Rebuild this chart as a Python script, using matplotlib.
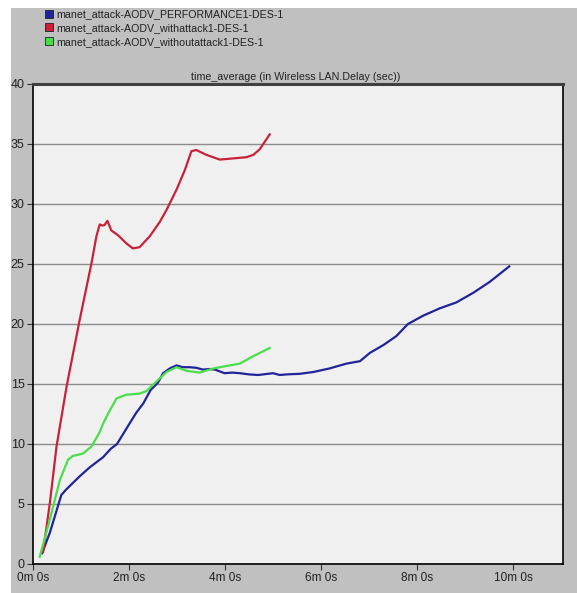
import matplotlib.pyplot as plt
from matplotlib.lines import Line2D
from matplotlib.patches import Rectangle

# Simulation time (minutes) and time-averaged WLAN delay (sec)
t_perf = [0.19, 0.35, 0.59, 0.69, 0.97, 1.18, 1.46, 1.62, 1.75, 2.01, 2.15, 2.30, 2.45,
          2.60, 2.71, 2.85, 2.99, 3.12, 3.26, 3.40, 3.54, 3.67, 3.79, 3.99, 4.15, 4.31,
          4.50, 4.69, 5.00, 5.14, 5.28, 5.56, 5.84, 6.18, 6.53, 6.81, 7.02, 7.30,
          7.57, 7.81, 8.13, 8.47, 8.82, 9.17, 9.51, 9.92]
d_perf = [0.9, 2.6, 5.75, 6.2, 7.3, 8.05, 8.9, 9.6, 10.0, 11.7, 12.6, 13.4, 14.5,
          15.1, 15.9, 16.3, 16.55, 16.4, 16.4, 16.35, 16.2, 16.25, 16.2, 15.9, 15.95, 15.9,
          15.8, 15.75, 15.9, 15.75, 15.8, 15.85, 16.0, 16.3, 16.7, 16.9, 17.6, 18.25,
          19.0, 20.0, 20.7, 21.3, 21.8, 22.6, 23.5, 24.8]

t_attack = [0.21, 0.35, 0.49, 0.70, 0.97, 1.22, 1.32, 1.39, 1.45, 1.49, 1.55, 1.63,
            1.77, 1.95, 2.08, 2.22, 2.43, 2.64, 2.78, 2.99, 3.16, 3.30, 3.40, 3.61,
            3.89, 4.17, 4.45, 4.59, 4.72, 4.83, 4.93]
d_attack = [1.0, 5.05, 9.8, 14.8, 20.3, 25.1, 27.3, 28.3, 28.2, 28.25, 28.6, 27.8,
            27.4, 26.7, 26.3, 26.4, 27.3, 28.5, 29.5, 31.2, 32.8, 34.4, 34.5, 34.1,
            33.7, 33.8, 33.9, 34.1, 34.55, 35.2, 35.8]

t_noattack = [0.14, 0.35, 0.56, 0.73, 0.83, 1.04, 1.22, 1.39, 1.46, 1.60, 1.74, 1.94,
              2.22, 2.36, 2.57, 2.78, 2.99, 3.20, 3.47, 3.76, 4.03, 4.31, 4.58, 4.93]
d_noattack = [0.6, 3.7, 7.0, 8.7, 9.0, 9.2, 9.8, 11.0, 11.7, 12.8, 13.8, 14.1,
              14.2, 14.4, 15.2, 16.0, 16.4, 16.1, 15.95, 16.3, 16.5, 16.7, 17.3, 18.0]

series_names = ['manet_attack-AODV_PERFORMANCE1-DES-1',
                'manet_attack-AODV_withattack1-DES-1',
                'manet_attack-AODV_withoutattack1-DES-1']
x_ticks = [0, 2, 4, 6, 8, 10]
x_labels = ['0m 0s', '2m 0s', '4m 0s', '6m 0s', '8m 0s', '10m 0s']
y_ticks = [0, 5, 10, 15, 20, 25, 30, 35, 40]

colors = ['#22229a', '#c8223a', '#4ade4a']
font = ['Liberation Sans', 'DejaVu Sans']

fig = plt.figure(figsize=(5.77, 5.93), dpi=100, facecolor='white')
# grey panel behind everything, white strip on the left and top
fig.patches.append(Rectangle((11 / 577, 0), 1, 1 - 8 / 593, transform=fig.transFigure,
                             facecolor='#c0c0c0', edgecolor='none', zorder=-10))

ax = fig.add_axes([33 / 577, 29 / 593, 530 / 577, 480 / 593])
ax.set_facecolor('#f0f0f0')

for t, d, c in zip([t_perf, t_attack, t_noattack], [d_perf, d_attack, d_noattack], colors):
    ax.plot(t, d, color=c, lw=1.6, solid_joinstyle='round')

ax.set_xlim(0, 11.04)
ax.set_ylim(0, 40)
ax.set_xticks(x_ticks)
ax.set_xticklabels(x_labels, family=font, fontsize=8.5, color='#222222')
ax.set_yticks(y_ticks)
ax.set_yticklabels([str(v) for v in y_ticks], family=font, fontsize=9, color='#222222')
ax.tick_params(length=4, width=0.8, color='#333333', pad=2)
ax.grid(axis='y', color='#8c8c8c', lw=1.0)
ax.set_axisbelow(True)

for side in ['left', 'bottom', 'right']:
    ax.spines[side].set_color('black')
    ax.spines[side].set_linewidth(1.2)
ax.spines['top'].set_color('#404040')
ax.spines['top'].set_linewidth(2.2)

fig.text(400 / 577, 1 - 77 / 593, 'time_average (in Wireless LAN.Delay (sec))',
         ha='right', va='center', family=font, fontsize=7.7, color='#222222')

handles = [Line2D([], [], ls='none', marker='s', markersize=6, markerfacecolor=c,
                  markeredgecolor='#202020', markeredgewidth=0.6) for c in colors]
fig.legend(handles, series_names, loc='upper left', bbox_to_anchor=(39 / 577, 1 - 5 / 593),
           frameon=False, prop={'family': font, 'size': 7.7}, handletextpad=0.2,
           handlelength=1.0, labelspacing=0.35, borderaxespad=0, labelcolor='#222222')

fig.savefig('out.png', dpi=100, facecolor='white')
